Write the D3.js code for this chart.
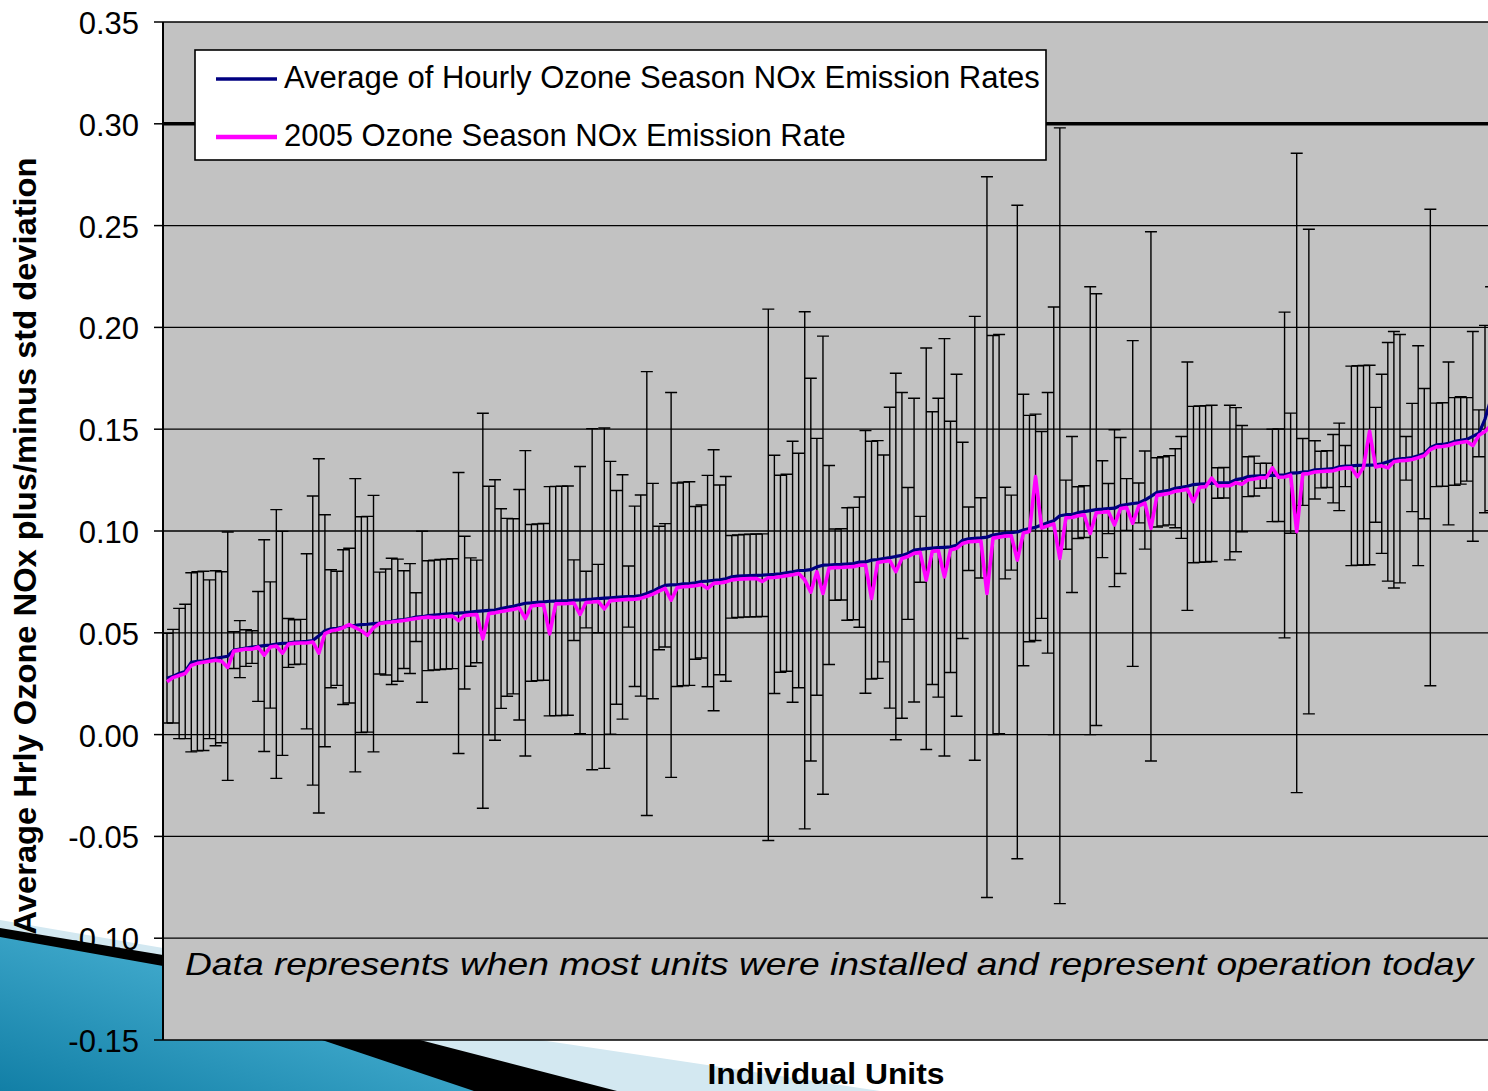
<!DOCTYPE html>
<html><head><meta charset="utf-8">
<script src="https://cdn.jsdelivr.net/npm/d3@7"></script>
<style>body{margin:0;background:#fff;} svg{display:block;}</style>
</head><body>
<svg id="chart" width="1488" height="1091"></svg>
<script>
// Average of hourly ozone-season NOx emission rate per unit (sorted)
const meanRate = [
0.0277,0.0287,0.030,0.031,0.0355,0.036,0.0362,0.037,0.0375,0.038,0.0385,0.0415,0.042,0.0425,0.043,0.0433,0.0437,0.044,0.0445,0.0448,0.045,0.0454,0.0456,0.0458,0.0462,0.0485,0.051,0.052,0.0522,0.0528,0.0535,0.0537,0.054,0.0542,0.0545,0.0548,0.0553,0.0556,0.0562,0.0565,0.057,0.0577,0.0579,0.0584,
0.0587,0.059,0.0592,0.0594,0.0597,0.0599,0.0602,0.0605,0.0608,0.061,0.0612,0.0619,0.0625,0.063,0.0638,0.0645,0.0647,0.065,0.0652,0.0655,0.0656,0.0657,0.0658,0.066,0.0661,0.0663,0.0665,0.0668,0.067,0.0672,0.0674,0.0676,0.0678,0.0679,0.0683,0.0693,0.0705,0.072,0.0733,0.0735,0.0736,0.074,0.0742,0.0745,
0.0752,0.0754,0.0758,0.076,0.0765,0.0775,0.0778,0.078,0.0781,0.0782,0.0783,0.0785,0.0787,0.079,0.0795,0.08,0.0806,0.0807,0.081,0.0824,0.0832,0.0833,0.0835,0.0836,0.0838,0.084,0.0847,0.0848,0.0857,0.086,0.0865,
0.0869,0.0875,0.088,0.089,0.0906,0.091,0.0913,0.0916,0.0918,0.092,0.0922,0.093,0.0954,0.0962,0.0964,0.0966,0.097,0.098,0.0985,0.099,0.0992,0.0995,0.1005,0.1012,0.1018,0.103,0.104,0.105,0.1075,0.108,
0.1081,0.109,0.1095,0.11,0.1105,0.1107,0.111,0.1112,0.1125,0.113,0.1135,0.1138,0.1152,0.117,0.119,0.1195,0.12,0.121,0.1214,0.122,0.1228,0.123,0.1232,0.1234,0.1236,0.1237,0.1238,0.1252,0.1257,0.1267,0.127,
0.1271,0.1272,0.1273,0.1274,0.1275,0.1284,0.1285,0.129,0.1292,0.13,0.1302,0.1304,0.1306,0.1315,0.1319,0.132,0.1322,0.1323,0.1324,0.1325,0.133,0.134,0.135,0.1355,0.1357,0.1361,0.137,0.138,0.141,0.1423,0.1425,0.143,0.144,0.1445,0.145,0.1465,0.148,0.155,0.165
];
// Standard deviation of hourly rates per unit (error bar half-length)
const sdRate = [
0.022,0.023,0.032,0.033,0.044,0.044,0.044,0.039,0.043,0.042,0.061,0.009,0.014,0.009,0.008,0.027,0.052,0.031,0.066,0.055,0.012,0.011,0.011,0.043,0.071,0.087,0.057,0.029,0.028,0.038,0.038,0.072,0.053,0.053,0.063,0.025,0.026,0.031,0.030,0.024,0.027,0.012,0.042,0.027,
0.027,0.027,0.027,0.027,0.069,0.0375,0.0266,0.0252,0.097,0.061,0.064,0.049,0.0437,0.043,0.0566,0.075,0.0385,0.0385,0.0385,0.0563,0.0563,0.0563,0.0563,0.0198,0.0656,0.0139,0.0838,0.0168,0.0836,0.067,0.0525,0.06,0.015,0.0443,0.0494,0.109,0.0529,0.0303,0.0303,0.0945,0.05,0.05,0.05,0.0375,
0.0376,0.0519,0.0641,0.0466,0.0503,0.0203,0.0203,0.0203,0.0203,0.0203,0.0203,0.1305,0.0585,0.0484,0.0484,0.0641,0.0576,0.127,0.094,0.0631,0.1125,0.0489,0.0175,0.0175,0.0276,0.0276,0.032,0.0645,0.0584,0.0584,0.0508,
0.0739,0.09,0.08,0.0324,0.0746,0.0162,0.0986,0.067,0.0734,0.1025,0.0617,0.084,0.0482,0.0156,0.109,0.0197,0.177,0.098,0.098,0.0225,0.0184,0.1605,0.0667,0.0556,0.0556,0.0459,0.064,0.105,0.1905,0.017,
0.0383,0.0127,0.0127,0.11,0.106,0.0238,0.0123,0.0385,0.0334,0.0127,0.08,0.0098,0.0241,0.13,0.017,0.017,0.017,0.0194,0.025,0.061,0.0384,0.0384,0.0384,0.0384,0.0075,0.0075,0.038,0.0354,0.0261,0.0098,0.0098,
0.0061,0.0061,0.0227,0.0227,0.08,0.0295,0.157,0.0164,0.119,0.0143,0.009,0.009,0.0168,0.0215,0.0101,0.049,0.049,0.049,0.049,0.0282,0.044,0.0586,0.063,0.061,0.0107,0.0266,0.054,0.032,0.117,0.0205,0.0205,0.04,0.0215,0.0215,0.0205,0.0515,0.0115,0.046,0.055
];
// 2005 ozone season NOx emission rate per unit
const rate2005 = [
0.026,0.028,0.029,0.030,0.034,0.035,0.0355,0.036,0.0365,0.036,0.033,0.041,0.0415,0.042,0.042,0.043,0.039,0.043,0.0435,0.040,0.0445,0.0448,0.045,0.045,0.0455,0.040,0.0496,0.051,0.0515,0.0525,0.054,0.0525,0.051,0.0487,0.0525,0.0546,0.055,0.0553,0.0557,0.056,0.0565,0.057,0.0574,0.0577,
0.0575,0.0577,0.058,0.0582,0.056,0.0585,0.0588,0.059,0.047,0.0595,0.0598,0.0605,0.061,0.0615,0.0622,0.057,0.0632,0.0635,0.0637,0.0495,0.0642,0.0643,0.0644,0.0646,0.059,0.0649,0.0651,0.0654,0.0618,0.0658,0.066,0.0662,0.0664,0.0665,0.0669,0.0679,0.069,0.0705,0.0718,0.066,0.0722,0.0726,0.0728,0.0731,
0.0737,0.0718,0.0743,0.0745,0.075,0.076,0.0763,0.0765,0.0766,0.0767,0.0752,0.077,0.0772,0.0775,0.078,0.0785,0.0791,0.076,0.070,0.080,0.0693,0.0818,0.082,0.0821,0.0823,0.0825,0.0832,0.0833,0.0669,0.0845,0.085,
0.0854,0.080,0.0865,0.0875,0.089,0.0895,0.0759,0.09,0.0903,0.0775,0.0907,0.0915,0.0939,0.0947,0.0949,0.0951,0.0693,0.0965,0.097,0.0975,0.0977,0.0857,0.099,0.0997,0.1267,0.1015,0.1025,0.1035,0.0865,0.1065,
0.1066,0.1075,0.108,0.0988,0.109,0.1092,0.1095,0.103,0.111,0.1115,0.1038,0.1123,0.1137,0.1013,0.1175,0.118,0.1185,0.1195,0.1199,0.1205,0.1144,0.1215,0.1217,0.126,0.1221,0.1222,0.1223,0.1237,0.123,0.1252,0.1255,
0.1261,0.1262,0.131,0.1264,0.1265,0.1274,0.0997,0.128,0.1282,0.129,0.1292,0.1294,0.1296,0.1305,0.1309,0.131,0.1267,0.1313,0.149,0.1315,0.132,0.131,0.134,0.1345,0.1347,0.1351,0.136,0.137,0.14,0.1413,0.1415,0.142,0.143,0.1435,0.144,0.142,0.147,0.1489,0.152
];
const yTicks = [0.35,0.30,0.25,0.20,0.15,0.10,0.05,0.00,-0.05,-0.10,-0.15];
const yTickLabels = ["0.35","0.30","0.25","0.20","0.15","0.10","0.05","0.00","-0.05","-0.10","-0.15"];
const legendLabels = ["Average of Hourly Ozone Season NOx Emission Rates","2005 Ozone Season NOx Emission Rate"];
const yTitle = "Average Hrly Ozone NOx plus/minus std deviation";
const xTitle = "Individual Units";
const noteText = "Data represents when most units were installed and represent operation today";

const units = d3.range(1, meanRate.length + 1);
const data = units.map((u,i)=>({u, mean:meanRate[i], sd:sdRate[i], r05:rate2005[i]}));

const W = 1488, H = 1091;
const FONT = "'Liberation Sans', Arial, sans-serif";
const svg = d3.select("#chart");
svg.append("rect").attr("width",W).attr("height",H).attr("fill","#fff");

// decorative slide corner
const defs = svg.append("defs");
const g1 = defs.append("linearGradient").attr("id","teal").attr("x1","0").attr("y1","1").attr("x2","1").attr("y2","0");
g1.append("stop").attr("offset","0").attr("stop-color","#127fa6");
g1.append("stop").attr("offset","1").attr("stop-color","#5cc3e3");
const deco = svg.append("g");
deco.append("polygon").attr("points","0,920 163,948 540,1040 880,1091 0,1091").attr("fill","#d3e8f1");
deco.append("polygon").attr("points","0,928 163,955 420,1040 617,1091 0,1091").attr("fill","#000");
deco.append("polygon").attr("points","0,937 163,966 322,1040 474,1091 0,1091").attr("fill","url(#teal)");

const y = d3.scaleLinear().domain([-0.15, 0.35]).range([1040, 22]);
const x = d3.scaleLinear().domain([1, 218]).range([167, 1485]);
const plotLeft = 163;

defs.append("clipPath").attr("id","clip").append("rect")
  .attr("x",plotLeft).attr("y",y(0.35)-2).attr("width",W-plotLeft).attr("height",y(-0.15)-y(0.35)+4);

svg.append("rect").attr("x",plotLeft).attr("y",y(0.35)).attr("width",W-plotLeft).attr("height",y(-0.15)-y(0.35)).attr("fill","#c2c2c2");

const plotG = svg.append("g").attr("clip-path","url(#clip)");
// gridlines
plotG.selectAll("line.grid").data(yTicks).join("line").attr("class","grid")
  .attr("x1",plotLeft).attr("x2",W).attr("y1",d=>y(d)).attr("y2",d=>y(d))
  .attr("stroke","#000").attr("stroke-width",d=>Math.abs(d-0.30)<1e-9?3.5:1.3);

// error bars
const eb = plotG.append("g").attr("stroke","#000").attr("stroke-width",1.4);
const capW = 6;
eb.selectAll("path").data(data).join("path")
  .attr("fill","none")
  .attr("d",d=>{
    const cx = x(d.u), t = y(d.mean+d.sd), b = y(d.mean-d.sd);
    return `M${cx},${t}V${b}M${cx-capW},${t}H${cx+capW}M${cx-capW},${b}H${cx+capW}`;
  });

// lines
const lineMean = d3.line().x(d=>x(d.u)).y(d=>y(d.mean));
const line05 = d3.line().x(d=>x(d.u)).y(d=>y(d.r05));
plotG.append("path").datum(data).attr("d",lineMean).attr("fill","none").attr("stroke","#000080").attr("stroke-width",3.2).attr("stroke-linejoin","round");
plotG.append("path").datum(data).attr("d",line05).attr("fill","none").attr("stroke","#ff00ff").attr("stroke-width",3.6).attr("stroke-linejoin","round");

// legend
const lg = svg.append("g");
lg.append("rect").attr("x",195).attr("y",50).attr("width",851).attr("height",110).attr("fill","#fff").attr("stroke","#000").attr("stroke-width",1.6);
const legColors = ["#000080","#ff00ff"];
const legY = [79, 137];
legendLabels.forEach((t,i)=>{
  lg.append("line").attr("x1",216).attr("x2",277).attr("y1",legY[i]).attr("y2",legY[i]).attr("stroke",legColors[i]).attr("stroke-width",i?4.5:3.5);
  lg.append("text").attr("x",284).attr("y",legY[i]+9).attr("font-family",FONT).attr("font-size",31).attr("fill","#000").text(t);
});

// y axis
svg.append("line").attr("x1",plotLeft).attr("x2",plotLeft).attr("y1",y(0.35)).attr("y2",y(-0.15)).attr("stroke","#000").attr("stroke-width",2);
svg.selectAll("line.tick").data(yTicks).join("line").attr("class","tick")
  .attr("x1",154).attr("x2",plotLeft).attr("y1",d=>y(d)).attr("y2",d=>y(d)).attr("stroke","#000").attr("stroke-width",1.5);
svg.selectAll("text.tl").data(yTicks).join("text").attr("class","tl")
  .attr("x",139).attr("y",d=>y(d)+12).attr("text-anchor","end")
  .attr("font-family",FONT).attr("font-size",31).attr("fill","#000")
  .text((d,i)=>yTickLabels[i]);

// titles
svg.append("text").attr("transform","translate(36,546) rotate(-90)").attr("text-anchor","middle")
  .attr("font-family",FONT).attr("font-weight","bold").attr("font-size",32)
  .attr("textLength",777).attr("lengthAdjust","spacingAndGlyphs").text(yTitle);
svg.append("text").attr("x",826).attr("y",1084).attr("text-anchor","middle")
  .attr("font-family",FONT).attr("font-weight","bold").attr("font-size",29)
  .attr("textLength",237).attr("lengthAdjust","spacingAndGlyphs").text(xTitle);
svg.append("text").attr("x",185).attr("y",975)
  .attr("font-family",FONT).attr("font-style","italic").attr("font-size",32)
  .attr("textLength",1288).attr("lengthAdjust","spacingAndGlyphs").text(noteText);
</script>
</body></html>
